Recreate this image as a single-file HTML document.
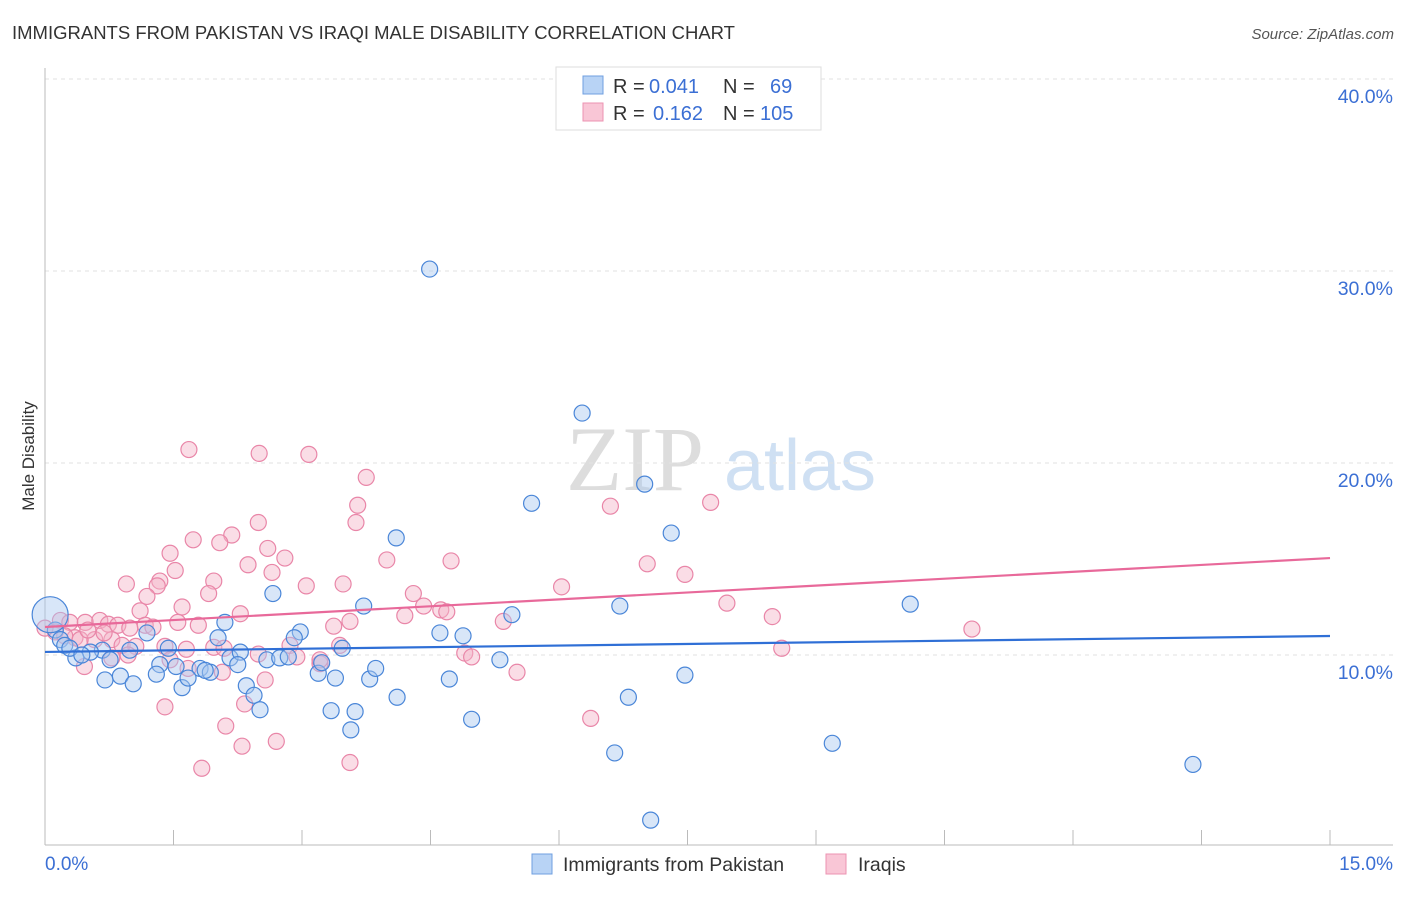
<!DOCTYPE html>
<html><head><meta charset="utf-8"><style>
body{margin:0;background:#fff;font-family:"Liberation Sans",sans-serif;}
</style></head><body>
<svg id="chart" width="1406" height="892" xmlns="http://www.w3.org/2000/svg">
<text x="12" y="39" font-size="18.5" fill="#333">IMMIGRANTS FROM PAKISTAN VS IRAQI MALE DISABILITY CORRELATION CHART</text>
<text x="1394" y="39" font-size="15" fill="#555" font-style="italic" text-anchor="end">Source: ZipAtlas.com</text>
<g>
<text x="635" y="490" font-size="92" fill="#ddd" font-family="Liberation Serif,serif" text-anchor="middle">ZIP</text>
<text x="800" y="490" font-size="72" fill="#cfe0f3" text-anchor="middle">atlas</text>
</g>
<g id="grid"></g>
<g id="axes"></g>
<g id="pts"></g>
<g id="lines"></g>
<text transform="translate(34,456) rotate(-90)" font-size="17" fill="#333" text-anchor="middle">Male Disability</text>
<text x="45" y="870" font-size="19" fill="#3b6fd4">0.0%</text>
<text x="1393" y="870" font-size="19" fill="#3b6fd4" text-anchor="end">15.0%</text>
<g>
<rect x="556" y="67" width="265" height="63" fill="#fff" stroke="#ddd"/>
<rect x="583" y="76" width="20" height="18" fill="#b8d3f5" stroke="#6f9fe0"/>
<rect x="583" y="103" width="20" height="18" fill="#f9c6d6" stroke="#ec93b2"/>
<text y="93" font-size="20" fill="#333"><tspan x="613">R =</tspan><tspan x="649" fill="#3b6fd4">0.041</tspan><tspan x="723">N =</tspan><tspan x="770" fill="#3b6fd4">69</tspan></text>
<text y="120" font-size="20" fill="#333"><tspan x="613">R =</tspan><tspan x="653" fill="#3b6fd4">0.162</tspan><tspan x="723">N =</tspan><tspan x="760" fill="#3b6fd4">105</tspan></text>
</g>
<g>
<rect x="532" y="854" width="20" height="20" fill="#b8d3f5" stroke="#6f9fe0"/>
<text x="563" y="871" font-size="19.5" fill="#333">Immigrants from Pakistan</text>
<rect x="826" y="854" width="20" height="20" fill="#f9c6d6" stroke="#ec93b2"/>
<text x="858" y="871" font-size="19.5" fill="#333">Iraqis</text>
</g>
</svg>
<script>
const yTicks=[10,20,30,40];
const yTickLabels=["10.0%","20.0%","30.0%","40.0%"];
const blueX=[4.49,6.27,7.00,5.68,7.31,4.10,2.66,3.72,5.45,6.71,10.10,2.10,4.61,4.88,2.98,2.91,2.02,3.47,1.44,1.19,0.67,0.53,0.36,0.76,0.99,1.34,1.53,1.81,1.93,2.16,2.28,2.59,2.74,2.84,3.19,3.23,3.39,3.79,3.86,4.72,5.31,7.47,0.70,0.88,1.03,1.30,1.60,1.67,2.35,2.44,2.51,3.34,3.62,3.57,4.11,4.98,6.81,6.65,9.19,13.40,7.07,0.12,0.18,0.23,0.29,0.43,2.25,1.87];
const blueY=[30.1,22.6,18.9,17.9,16.35,16.1,13.2,12.55,12.1,12.55,12.65,11.7,11.15,11.0,11.2,10.9,10.9,10.35,10.35,11.15,10.25,10.15,9.85,9.75,10.25,9.5,9.4,9.3,9.1,9.85,10.15,9.75,9.85,9.9,9.05,9.6,8.8,8.75,9.3,8.75,9.75,8.95,8.7,8.9,8.5,9.0,8.3,8.8,8.4,7.9,7.15,7.1,7.05,6.1,7.8,6.65,7.8,4.9,5.4,4.3,1.4,11.3,10.8,10.5,10.35,10.0,9.5,9.2];
const pinkX=[1.68,2.50,3.08,3.75,3.65,3.63,6.60,7.77,2.49,2.18,1.73,2.04,1.46,2.60,2.80,3.99,4.74,7.03,2.37,2.65,1.52,7.47,0.95,1.34,1.31,1.97,3.05,3.48,6.03,1.19,1.91,4.30,4.42,4.62,4.69,7.96,4.20,1.60,1.11,2.28,3.37,3.56,5.35,8.49,10.82,0.18,0.29,0.47,0.64,0.74,0.85,0.99,1.17,1.26,1.55,1.79,0.35,0.58,0.78,0.90,1.06,1.40,1.65,1.97,2.09,2.49,2.86,3.44,4.90,4.98,5.51,8.60,3.21,0.12,0.23,0.41,0.50,0.69,1.67,2.07,0.46,1.40,2.33,2.11,2.70,2.30,6.37,1.83,3.56,1.46,0.78,0.97,2.57,2.94,3.21,0.0];
const pinkY=[20.7,20.5,20.45,19.25,17.8,16.9,17.75,17.95,16.9,16.25,16.0,15.85,15.3,15.55,15.05,14.95,14.9,14.75,14.7,14.3,14.4,14.2,13.7,13.85,13.6,13.85,13.6,13.7,13.55,13.05,13.2,13.2,12.55,12.35,12.25,12.7,12.05,12.5,12.3,12.15,11.5,11.75,11.75,12.0,11.35,11.8,11.7,11.7,11.8,11.6,11.55,11.4,11.55,11.45,11.7,11.55,10.9,10.8,10.8,10.5,10.45,10.45,10.3,10.4,10.35,10.05,10.5,10.5,10.1,9.9,9.1,10.35,9.55,11.2,11.0,10.8,11.3,11.15,9.3,9.1,9.4,7.3,7.45,6.3,5.5,5.25,6.7,4.1,4.4,9.75,9.85,10.0,8.7,9.9,9.75,11.4];
const blueTrend=[10.16,10.99];
const pinkTrend=[11.46,15.05];
const bigBlue=[0.06,12.1];

const NS="http://www.w3.org/2000/svg";
const X0=45,X1=1330,Y0=847,PXY=19.2;
const sx=v=>X0+(v/15)*(X1-X0);
const sy=v=>Y0-v*PXY;
function mk(tag,attrs,parent){const e=document.createElementNS(NS,tag);for(const k in attrs)e.setAttribute(k,attrs[k]);parent.appendChild(e);return e;}
const grid=document.getElementById('grid'),axes=document.getElementById('axes'),pts=document.getElementById('pts'),lines=document.getElementById('lines');
yTicks.forEach((t,i)=>{
 const l=mk('line',{x1:X0,x2:1393,y1:sy(t),y2:sy(t),stroke:'#e2e2e2','stroke-dasharray':'4,4'},grid);
 
 
 const tx=mk('text',{x:1393,y:sy(t)+24,'font-size':19.5,fill:'#3b6fd4','text-anchor':'end'},grid);
 tx.textContent=yTickLabels[i];
 
 
});
const ax=mk('line',{x1:X0,x2:1393,y1:845,y2:845,stroke:'#bbb'},axes);


const ay=mk('line',{x1:X0,x2:X0,y1:68,y2:845,stroke:'#bbb'},axes);


for(let i=0;i<=10;i++){
 const t=mk('line',{x1:sx(i*1.5),x2:sx(i*1.5),y1:830,y2:845,stroke:'#bbb'},axes);
 
 
}
function dot(x,y,r,fill,stroke,name){
 const c=mk('circle',{cx:sx(x),cy:sy(y),r:r,fill:fill,'fill-opacity':0.45,stroke:stroke,'stroke-width':1.2},pts);
 
 
}
pinkX.forEach((x,i)=>dot(x,pinkY[i],8,'#f5b3c8','#e986a8','iraqis-point'));
blueX.forEach((x,i)=>dot(x,blueY[i],8,'#a8c7f0','#4a86d8','pakistan-point'));
dot(bigBlue[0],bigBlue[1],18,'#a8c7f0','#4a86d8','pakistan-point-large');
const bl=mk('line',{x1:sx(0),x2:sx(15),y1:sy(blueTrend[0]),y2:sy(blueTrend[1]),stroke:'#2f6fd6','stroke-width':2.2},lines);


const pl=mk('line',{x1:sx(0),x2:sx(15),y1:sy(pinkTrend[0]),y2:sy(pinkTrend[1]),stroke:'#e8699a','stroke-width':2.2},lines);


</script>
</body></html>
